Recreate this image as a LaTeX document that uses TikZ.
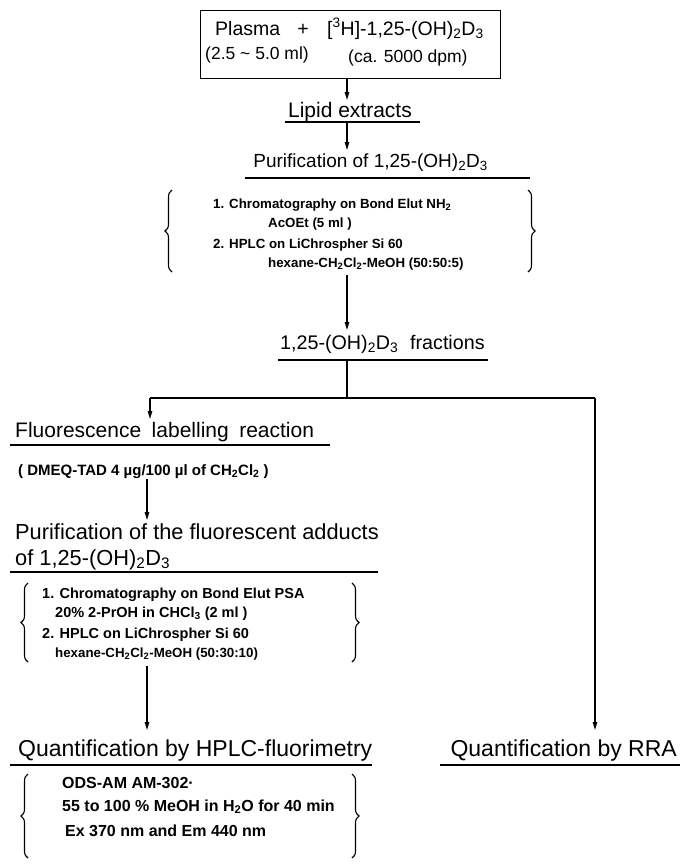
\documentclass[tikz,border=0pt]{standalone}
\usepackage{fontspec}
\setmainfont{Liberation Sans}
\usetikzlibrary{arrows.meta,decorations.pathreplacing}
\begin{document}
\begin{tikzpicture}[x=1pt,y=-1pt,
  head/.style={font=\fontsize{21}{25}\selectfont, inner sep=0pt},
  bighead/.style={font=\fontsize{23}{27}\selectfont, inner sep=0pt},
  subt/.style={font=\fontsize{17.5}{21}\selectfont, inner sep=0pt},
  noteA/.style={font=\bfseries\fontsize{13.3}{16}\selectfont, inner sep=0pt},
  noteB/.style={font=\bfseries\fontsize{14.5}{17}\selectfont, inner sep=0pt},
  noteC/.style={font=\bfseries\fontsize{16}{19}\selectfont, inner sep=0pt},
  arr/.style={line width=1.2pt, -{Triangle[length=8pt,width=4.5pt]}},
  rule/.style={line width=1.2pt},
  brc/.style={line width=1.1pt, decorate, decoration={brace, amplitude=7pt}}]
\fill[white] (0,0) rectangle (680,868);
\useasboundingbox (0,0) rectangle (680,868);
% top box
\node[draw, line width=1.2pt, minimum width=300pt, minimum height=68pt, anchor=north west, inner sep=0pt] (box) at (200,10) {};
\node[anchor=base west, inner sep=0pt, font=\fontsize{19.5}{23}\selectfont] (plasma) at (215,35) {Plasma};
\node[anchor=base, inner sep=0pt, font=\fontsize{19.5}{23}\selectfont] (plus) at (303,35) {+};
\node[anchor=base west, inner sep=0pt, font=\fontsize{19.5}{23}\selectfont] (tracer) at (327,35) {[\textsuperscript{3}H]-1,25-(OH)\textsubscript{2}D\textsubscript{3}};
\node[subt, anchor=base west] (vol) at (205,59) {(2.5 \textasciitilde{} 5.0 ml)};
\node[subt, anchor=base west] (dpm) at (348,62) {(ca. 5000 dpm)};
% main column
\coordinate (c1) at (347,122);
\draw[arr] (box.south -| c1) -- (347,100) coordinate (t1);
\node[head, anchor=base] (lip) at (350,117) {Lipid extracts};
\draw[rule] (285,122) -- (420,122);
\draw[arr] (c1) -- (347,150) coordinate (t2);
\node[anchor=base east, inner sep=0pt, font=\fontsize{19}{23}\selectfont] (pur) at (488,167) {Purification of 1,25-(OH)\textsubscript{2}D\textsubscript{3}};
\draw[rule] (245,178) -- (530,178);
% block 1
\node[noteA, anchor=base west] (b1l1) at (213,208) {1. Chromatography on Bond Elut NH\textsubscript{2}};
\node[noteA, anchor=base west] (b1l2) at (268,227) {AcOEt (5 ml )};
\node[noteA, anchor=base west] (b1l3) at (213,248) {2. HPLC on LiChrospher Si 60};
\node[noteA, anchor=base west] (b1l4) at (268,267) {hexane-CH\textsubscript{2}Cl\textsubscript{2}-MeOH (50:50:5)};
\draw[brc] (172,272) -- (172,190);
\draw[brc] (528,190) -- (528,272);
\coordinate (c2) at (347,275);
\draw[arr] (c2) -- (347,330) coordinate (t3);
\node[anchor=base west, inner sep=0pt, font=\fontsize{19.7}{24}\selectfont] (frac) at (280,349) {1,25-(OH)\textsubscript{2}D\textsubscript{3}\hspace{0.6em}fractions};
\draw[rule] (278,360) -- (488,360);
\coordinate (split) at (347,398);
\coordinate (splitL) at (150,398);
\coordinate (splitR) at (595,398);
\draw[rule] (347,360) -- (split);
\draw[rule] (splitL) -- (splitR);
\draw[arr] (splitL) -- (150,419) coordinate (t4);
% left branch
\node[head, anchor=base west] (fluo) at (15,437) {Fluorescence\hspace{0.5em}labelling\hspace{0.5em}reaction};
\draw[rule] (10,445) -- (330,445);
\node[anchor=base west, inner sep=0pt, font=\bfseries\fontsize{15}{18}\selectfont] (dmeq) at (18,475) {( DMEQ-TAD 4 µg/100 µl of CH\textsubscript{2}Cl\textsubscript{2} )};
\coordinate (c3) at (147,479);
\draw[arr] (c3) -- (147,520) coordinate (t5);
\node[anchor=base west, inner sep=0pt, font=\fontsize{21.8}{26}\selectfont] (pfa) at (15,539) {Purification of the fluorescent adducts};
\node[anchor=base west, inner sep=0pt, font=\fontsize{21.8}{26}\selectfont] (pfb) at (15,565) {of 1,25-(OH)\textsubscript{2}D\textsubscript{3}};
\draw[rule] (10,572) -- (378,572);
% block 2
\node[noteB, anchor=base west] (b2l1) at (42,598) {1. Chromatography on Bond Elut PSA};
\node[noteB, anchor=base west] (b2l2) at (55,617) {20\% 2-PrOH in CHCl\textsubscript{3} (2 ml )};
\node[noteB, anchor=base west] (b2l3) at (42,638) {2. HPLC on LiChrospher Si 60};
\node[noteA, anchor=base west] (b2l4) at (55,657) {hexane-CH\textsubscript{2}Cl\textsubscript{2}-MeOH (50:30:10)};
\draw[brc] (28,662) -- (28,583);
\draw[brc] (352,583) -- (352,662);
\coordinate (c4) at (147,666);
\draw[arr] (c4) -- (147,730) coordinate (t6);
\node[bighead, anchor=base west] (hplc) at (18,756) {Quantification by HPLC-fluorimetry};
\draw[rule] (10,765) -- (372,765);
% block 3
\node[noteC, anchor=base west] (b3l1) at (62,788) {ODS-AM AM-302·};
\node[noteC, anchor=base west] (b3l2) at (62,811) {55 to 100 \% MeOH in H\textsubscript{2}O for 40 min};
\node[noteC, anchor=base west] (b3l3) at (65,836) {Ex 370 nm and Em 440 nm};
\draw[brc] (28,858) -- (28,774);
\draw[brc] (352,774) -- (352,858);
% right branch
\draw[arr] (splitR) -- (595,730) coordinate (t7);
\node[bighead, anchor=base east] (rra) at (677,756) {Quantification by RRA};
\draw[rule] (440,765) -- (680,765);
\end{tikzpicture}
\end{document}
